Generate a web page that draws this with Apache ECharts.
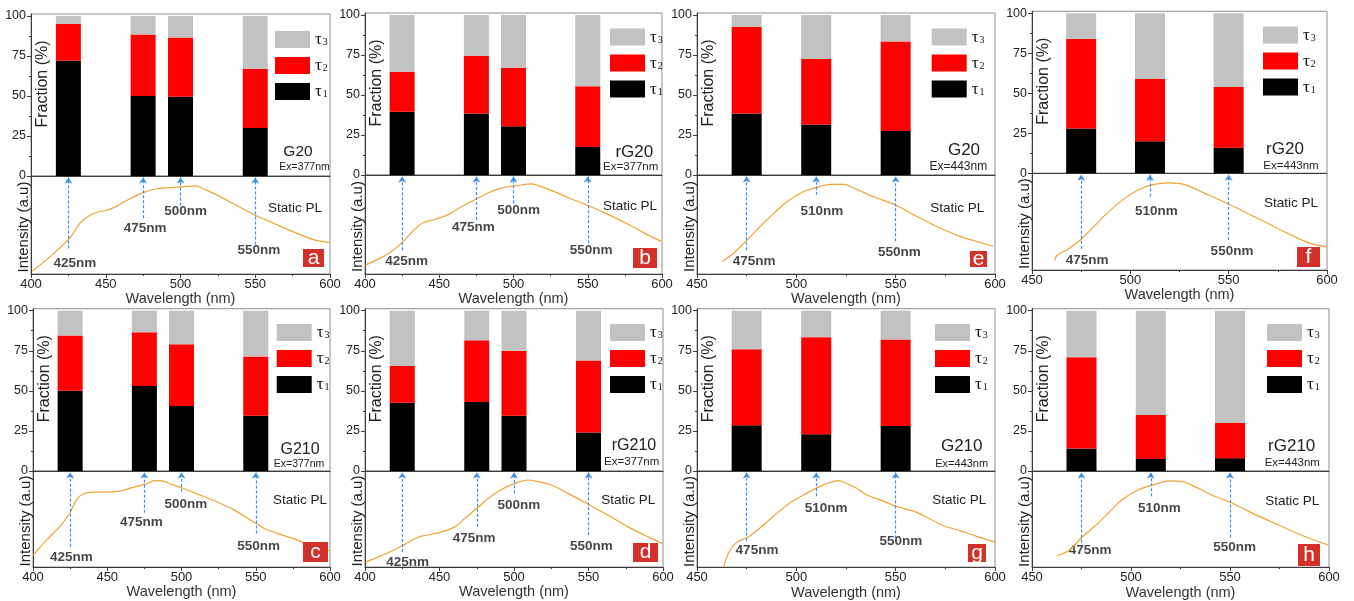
<!DOCTYPE html>
<html>
<head>
<meta charset="utf-8">
<script src="https://cdn.jsdelivr.net/npm/echarts@6/dist/echarts.min.js"></script>
<style>
  html, body { margin: 0; padding: 0; background: #ffffff; }
  #chart { width: 1354px; height: 601px; }
</style>
</head>
<body>
<div id="chart"></div>
<script>
// Probe wavelengths (nm) for 377 nm and 443 nm excitation
const probeUV = [425, 475, 500, 550];
const probeBlue = [475, 510, 550];

// Amplitude fractions (%) of the three decay components tau1 / tau2 / tau3
const tau1_a = [72, 50, 49.5, 30];
const tau2_a = [23, 38.5, 37, 37];
const tau3_a = [5, 11.5, 13.5, 33];

const tau1_b = [39.5, 38.5, 30.5, 17.5];
const tau2_b = [25, 36, 36.5, 38];
const tau3_b = [35.5, 25.5, 33, 44.5];

const tau1_e = [38.5, 31.5, 27.5];
const tau2_e = [54, 41, 56];
const tau3_e = [7.5, 27.5, 16.5];

const tau1_f = [28, 20, 16];
const tau2_f = [56, 39, 38];
const tau3_f = [16, 41, 46];

const tau1_c = [50, 53, 40.5, 34.5];
const tau2_c = [34.5, 33.5, 38.5, 37];
const tau3_c = [15.5, 13.5, 21, 28.5];

const tau1_d = [42.5, 43, 34.5, 24];
const tau2_d = [23, 38.5, 40.5, 45];
const tau3_d = [34.5, 18.5, 25, 31];

const tau1_g = [28.5, 23, 28];
const tau2_g = [47.5, 60.5, 54];
const tau3_g = [24, 16.5, 18];

const tau1_h = [14, 7.5, 8];
const tau2_h = [57, 27.5, 22];
const tau3_h = [29, 65, 70];

// Static PL spectra, [wavelength nm, normalised intensity]
const pl_a = [[401,0.03],[413,0.18],[425.6,0.36],[432.8,0.52],[438.3,0.59],[444,0.63],[450.6,0.65],[457,0.69],[464,0.75],[475,0.83],[484,0.87],[490.8,0.88],[500.8,0.89],[510.8,0.9],[515,0.87],[524,0.81],[535,0.72],[550,0.6],[562,0.52],[575.5,0.43],[589,0.35],[600,0.32]];
const pl_b = [[400.4,0.09],[409,0.15],[418,0.23],[425.8,0.33],[432.6,0.44],[439.3,0.52],[447,0.55],[456,0.6],[465,0.68],[475.3,0.76],[483,0.82],[492,0.87],[501,0.89],[512.4,0.91],[519,0.88],[528,0.83],[537,0.77],[550.5,0.69],[564,0.6],[577.5,0.5],[591,0.39],[599.5,0.33]];
const pl_e = [[462.6,0.125],[468.4,0.21],[475.1,0.34],[481.8,0.48],[488.5,0.61],[495.3,0.73],[503.6,0.83],[511.2,0.88],[517,0.905],[523.7,0.905],[530.4,0.855],[538.8,0.78],[549.7,0.7],[558.9,0.6],[570.7,0.48],[582.4,0.38],[590.8,0.33],[599.2,0.28]];
const pl_f = [[461.5,0.1],[462.7,0.15],[468.6,0.22],[474.6,0.31],[480.5,0.43],[487.3,0.57],[495.8,0.72],[504.2,0.83],[511,0.88],[519.5,0.9],[528,0.88],[538.1,0.79],[549.2,0.69],[560.2,0.58],[572,0.46],[583.9,0.34],[592.4,0.27],[600,0.24]];
const pl_c = [[400,0.12],[409,0.28],[418,0.42],[424.7,0.56],[429.2,0.7],[433.7,0.76],[440.4,0.78],[449.4,0.78],[458.4,0.79],[467.4,0.83],[475.3,0.86],[482,0.9],[487.6,0.895],[494.4,0.855],[501,0.82],[512.4,0.75],[523.6,0.68],[534.8,0.6],[549.4,0.46],[557.3,0.39],[568.5,0.33],[579.8,0.27],[586.5,0.21],[600,0.17]];
const pl_d = [[400.4,0.05],[409,0.105],[417.9,0.167],[425.7,0.226],[432.4,0.286],[438,0.321],[444.7,0.341],[451.4,0.366],[460.3,0.418],[467,0.505],[474.9,0.61],[482.7,0.714],[491.6,0.808],[500.6,0.871],[509.5,0.906],[516.2,0.889],[525.2,0.854],[536.3,0.767],[549.7,0.655],[563.2,0.54],[576.6,0.418],[590,0.314],[599.6,0.244]];
const pl_g = [[463.4,0],[465.9,0.15],[470.1,0.26],[475.6,0.31],[481.8,0.41],[488.5,0.53],[496.9,0.67],[503.6,0.75],[512,0.84],[517,0.88],[521.2,0.9],[525.4,0.87],[530.4,0.82],[535.5,0.75],[542.2,0.7],[550.6,0.63],[560.6,0.57],[567.3,0.5],[574,0.43],[582.4,0.38],[590.8,0.32],[600,0.26]];
const pl_h = [[462.6,0.12],[468.5,0.17],[475.2,0.31],[482,0.43],[488.7,0.565],[495.4,0.7],[503.8,0.805],[511.4,0.856],[519,0.897],[525.7,0.89],[534.1,0.82],[540.8,0.75],[550.1,0.675],[559.3,0.58],[571.1,0.47],[582.9,0.36],[591.3,0.29],[599.7,0.23]];

// Panel descriptions
const panels = [
  { key: 'a', sample: 'G20',   ex: 'Ex=377nm', probes: probeUV,   tau: [tau1_a, tau2_a, tau3_a], pl: pl_a, xMin: 400 },
  { key: 'b', sample: 'rG20',  ex: 'Ex=377nm', probes: probeUV,   tau: [tau1_b, tau2_b, tau3_b], pl: pl_b, xMin: 400 },
  { key: 'e', sample: 'G20',   ex: 'Ex=443nm', probes: probeBlue, tau: [tau1_e, tau2_e, tau3_e], pl: pl_e, xMin: 450 },
  { key: 'f', sample: 'rG20',  ex: 'Ex=443nm', probes: probeBlue, tau: [tau1_f, tau2_f, tau3_f], pl: pl_f, xMin: 450 },
  { key: 'c', sample: 'G210',  ex: 'Ex=377nm', probes: probeUV,   tau: [tau1_c, tau2_c, tau3_c], pl: pl_c, xMin: 400 },
  { key: 'd', sample: 'rG210', ex: 'Ex=377nm', probes: probeUV,   tau: [tau1_d, tau2_d, tau3_d], pl: pl_d, xMin: 400 },
  { key: 'g', sample: 'G210',  ex: 'Ex=443nm', probes: probeBlue, tau: [tau1_g, tau2_g, tau3_g], pl: pl_g, xMin: 450 },
  { key: 'h', sample: 'rG210', ex: 'Ex=443nm', probes: probeBlue, tau: [tau1_h, tau2_h, tau3_h], pl: pl_h, xMin: 450 }
];

// Pixel layout of each panel:
// rect = [left, right, y of 100 %, y of 0 % (separator), bottom of PL axis]
const layout = {
  a: { rect: [31, 330, 16, 176, 274],       bar: 25, legend: [275, 25.5],  name: [298, 151.7, 15.5],   ex: [304.5, 166.7, 10.5], pl: [295, 208.3],    box: [303, 249, 324, 267],    xGap: 14 },
  b: { rect: [365, 662, 15, 175, 274],      bar: 25, legend: [610, 23],    name: [634.3, 152.7, 17],   ex: [630.7, 166.7, 11.5], pl: [630, 206.7],    box: [633, 248, 657, 268],    xGap: 14 },
  e: { rect: [697, 995, 15, 175, 274],      bar: 30, legend: [931.7, 23],  name: [964, 150.7, 17],     ex: [958.3, 166.7, 12],   pl: [957.3, 208.3],  box: [970, 251, 987, 267],    xGap: 14 },
  f: { rect: [1032, 1327, 13.3, 173.3, 270], bar: 30, legend: [1263, 21],  name: [1285, 149, 17],      ex: [1291, 165.7, 11.5],  pl: [1291, 203.3],   box: [1297, 247, 1320, 267],  xGap: 16 },
  c: { rect: [33, 330, 310.7, 471, 567],    bar: 25, legend: [276.7, 318.5], name: [300, 450, 16],     ex: [299, 464.3, 10.5],   pl: [300, 500],      box: [303, 542, 328, 562],    xGap: 17 },
  d: { rect: [365, 663, 310.7, 471, 567],   bar: 25, legend: [610, 318.5],   name: [634, 446, 16],     ex: [631.7, 461.7, 11.5], pl: [628.3, 500],    box: [633, 543, 658, 562],    xGap: 17 },
  g: { rect: [697, 995, 310.7, 471, 568],   bar: 30, legend: [935, 318.5],   name: [961.7, 446, 17],   ex: [961.7, 464.3, 11],   pl: [959.3, 500],    box: [968, 544, 986, 562],    xGap: 16 },
  h: { rect: [1032, 1329, 310.7, 471, 568], bar: 30, legend: [1267, 318.5],  name: [1291.7, 446.7, 17], ex: [1292.3, 463.3, 11.5], pl: [1292.3, 501.7], box: [1298, 544, 1320, 566], xGap: 16 }
};

// Dashed arrow callouts: lower end of each arrow and the label anchor (PL axis units)
const callouts = {
  a: { base: [0.26, 0.57, 0.70, 0.30],   label: [[429.4, 0.11], [476.3, 0.47], [503.5, 0.645], [552.5, 0.245]] },
  b: { base: [0.24, 0.545, 0.715, 0.31], label: [[428.1, 0.125], [473, 0.468], [503.4, 0.646], [552.3, 0.242]] },
  e: { base: [0.24, 0.80, 0.33],         label: [[478.8, 0.125], [512.8, 0.63], [551.9, 0.215]] },
  f: { base: [0.22, 0.76, 0.31],         label: [[478, 0.104], [513.2, 0.611], [551.7, 0.194]] },
  c: { base: [0.21, 0.565, 0.785, 0.35], label: [[425.8, 0.098], [473, 0.47], [502.9, 0.652], [552, 0.216]] },
  d: { base: [0.157, 0.418, 0.767, 0.331], label: [[428.6, 0.052], [473.3, 0.296], [503.3, 0.645], [552, 0.216]] },
  g: { base: [0.274, 0.736, 0.298],      label: [[480.2, 0.171], [515, 0.616], [552.6, 0.264]] },
  h: { base: [0.257, 0.736, 0.308],      label: [[479.4, 0.171], [514.3, 0.616], [552.3, 0.205]] }
};

const FONT = '"Liberation Sans", Arial, Helvetica, sans-serif';
const SERIF = '"Liberation Serif", "DejaVu Serif", "Times New Roman", serif';
const AXIS_COLOR = '#3c3c3c';
const FRAME_COLOR = '#8e8e8e';
const TEXT_COLOR = '#222222';
const TAU_NAMES = ['τ1', 'τ2', 'τ3'];
const TAU_COLORS = ['#000000', '#ff0000', '#c2c2c2'];
const PL_COLOR = '#f0a236';
const ARROW_COLOR = '#3b90e6';
const TAG_COLOR = '#d3302a';

const grid = [], xAxis = [], yAxis = [], series = [], legend = [], graphic = [];

function textEl(x, y, text, size, opts) {
  const o = opts || {};
  return {
    type: 'text', x: x, y: y, rotation: o.rotation || 0, z: 100, silent: true,
    style: {
      text: text, font: (o.weight || 'normal') + ' ' + size + 'px ' + (o.family || FONT),
      fill: o.color || TEXT_COLOR,
      align: 'center', verticalAlign: 'middle',
      textAlign: 'center', textVerticalAlign: 'middle'
    }
  };
}

panels.forEach(function (p) {
  const L = layout[p.key];
  const l = L.rect[0], r = L.rect[1], t100 = L.rect[2], z = L.rect[3], b = L.rect[4];
  const top = t100 - 2;
  const gi = grid.length;
  const yMax = 100 * (z - top) / (z - t100);

  // upper grid: stacked fractions; lower grid: static PL
  grid.push({ left: l, top: top, width: r - l, height: z - top, show: true, borderColor: FRAME_COLOR, borderWidth: 1 });
  grid.push({ left: l, top: z, width: r - l, height: b - z, show: true, borderColor: FRAME_COLOR, borderWidth: 1 });

  xAxis.push({
    gridIndex: gi, type: 'value', min: p.xMin, max: 600, interval: 50,
    axisLine: { show: true, onZero: false, lineStyle: { color: AXIS_COLOR, width: 1 } },
    axisTick: { show: false }, axisLabel: { show: false }, splitLine: { show: false }
  });
  xAxis.push({
    gridIndex: gi + 1, type: 'value', min: p.xMin, max: 600, interval: 50,
    name: 'Wavelength (nm)', nameLocation: 'middle', nameGap: L.xGap,
    nameTextStyle: { fontFamily: FONT, fontSize: 14.5, color: '#333' },
    axisLine: { show: true, onZero: false, lineStyle: { color: AXIS_COLOR, width: 1 } },
    axisTick: { show: true, length: 4, lineStyle: { color: AXIS_COLOR } },
    minorTick: { show: true, splitNumber: 2, length: 2, lineStyle: { color: AXIS_COLOR } },
    axisLabel: { fontFamily: FONT, fontSize: 13, color: TEXT_COLOR, margin: 4 },
    splitLine: { show: false }
  });
  yAxis.push({
    gridIndex: gi, type: 'value', min: 0, max: yMax, interval: 25,
    axisLine: { show: true, lineStyle: { color: AXIS_COLOR, width: 1 } },
    axisTick: { show: true, length: 4, customValues: [0, 25, 50, 75, 100], lineStyle: { color: AXIS_COLOR } },
    minorTick: { show: true, splitNumber: 2, length: 2, lineStyle: { color: AXIS_COLOR } },
    axisLabel: {
      fontFamily: FONT, fontSize: 12.5, color: TEXT_COLOR, margin: 5,
      customValues: [0, 25, 50, 75, 100],
      formatter: function (v) { return v % 25 === 0 ? String(v) : ''; }
    },
    splitLine: { show: false }
  });
  yAxis.push({
    gridIndex: gi + 1, type: 'value', min: 0, max: 1,
    axisLine: { show: true, lineStyle: { color: AXIS_COLOR, width: 1 } },
    axisTick: { show: false }, axisLabel: { show: false }, splitLine: { show: false }
  });

  // stacked component fractions; each item is [fraction, wavelength] so the
  // fraction is the first numeric dimension and therefore the stacked one
  p.tau.forEach(function (vals, k) {
    series.push({
      type: 'bar', name: TAU_NAMES[k], xAxisIndex: gi, yAxisIndex: gi,
      stack: 'frac-' + p.key, barWidth: L.bar,
      encode: { x: 1, y: 0 },
      itemStyle: { color: TAU_COLORS[k] },
      emphasis: { disabled: true },
      data: p.probes.map(function (w, j) { return [vals[j], w]; })
    });
  });

  // static PL curve with the dashed probe arrows
  const co = callouts[p.key];
  series.push({
    type: 'line', name: 'Static PL ' + p.key, xAxisIndex: gi + 1, yAxisIndex: gi + 1,
    data: p.pl, showSymbol: false, smooth: 0.3,
    lineStyle: { color: PL_COLOR, width: 1.2 },
    emphasis: { disabled: true },
    markLine: {
      silent: true, symbol: ['none', 'arrow'], symbolSize: 6,
      label: { show: false },
      lineStyle: { color: ARROW_COLOR, type: [3, 2], width: 1.2 },
      emphasis: { disabled: true },
      data: p.probes.map(function (w, j) {
        return [{ coord: [w, co.base[j]] }, { coord: [w, 0.985] }];
      })
    }
  });

  // probe wavelength labels
  series.push({
    type: 'scatter', name: 'probe ' + p.key, xAxisIndex: gi + 1, yAxisIndex: gi + 1,
    symbolSize: 1, itemStyle: { color: 'rgba(0,0,0,0)' }, silent: true,
    label: {
      show: true, position: 'inside', formatter: '{b}',
      fontFamily: FONT, fontWeight: 'bold', fontSize: 13.5, color: '#151515'
    },
    data: p.probes.map(function (w, j) { return { name: w + 'nm', value: co.label[j] }; })
  });

  legend.push({
    left: L.legend[0], top: L.legend[1], orient: 'vertical', padding: 0,
    itemWidth: 35, itemHeight: 17, itemGap: 3, icon: 'rect', selectedMode: false,
    data: ['τ3', 'τ2', 'τ1'],
    formatter: function (n) { return '{t|τ}{s|' + n.slice(1) + '}'; },
    textStyle: {
      rich: {
        t: { fontFamily: SERIF, fontSize: 17, lineHeight: 16, verticalAlign: 'top', color: '#111' },
        s: { fontFamily: SERIF, fontSize: 10, lineHeight: 10, verticalAlign: 'bottom', padding: [12, 0, 0, 1], color: '#111' }
      }
    }
  });

  // axis titles and panel annotations
  graphic.push(textEl(l + 12, t100 + 68, 'Fraction (%)', 16, { rotation: Math.PI / 2 }));
  graphic.push(textEl(l - 7, (z + b) / 2 + 2, 'Intensity (a.u)', 15, { rotation: Math.PI / 2 }));
  graphic.push(textEl(L.pl[0], L.pl[1], 'Static PL', 13.5));
  graphic.push(textEl(L.name[0], L.name[1], p.sample, L.name[2]));
  graphic.push(textEl(L.ex[0], L.ex[1], p.ex, L.ex[2]));
  graphic.push({
    type: 'rect', z: 100, silent: true,
    shape: { x: L.box[0], y: L.box[1], width: L.box[2] - L.box[0], height: L.box[3] - L.box[1] },
    style: { fill: TAG_COLOR }
  });
  graphic.push(textEl((L.box[0] + L.box[2]) / 2, (L.box[1] + L.box[3]) / 2, p.key, 21, { color: '#ffffff' }));
});

const chart = echarts.init(document.getElementById('chart'), null, { renderer: 'canvas' });
chart.setOption({
  animation: false,
  backgroundColor: '#ffffff',
  textStyle: { fontFamily: FONT },
  grid: grid, xAxis: xAxis, yAxis: yAxis,
  legend: legend, series: series, graphic: graphic
});
</script>
</body>
</html>
